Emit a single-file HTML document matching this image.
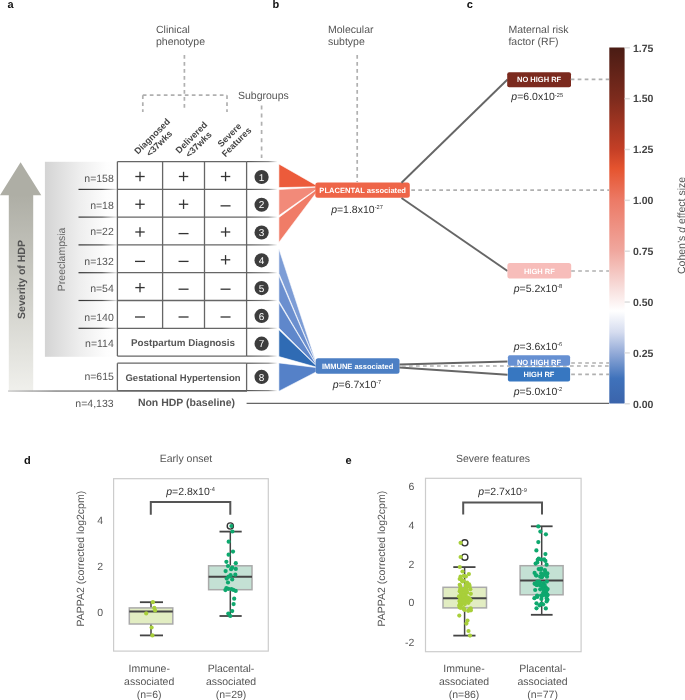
<!DOCTYPE html>
<html><head><meta charset="utf-8"><style>
html,body{margin:0;padding:0;background:#fff;overflow:hidden;width:685px;height:700px;}
svg{display:block;font-family:"Liberation Sans", sans-serif;text-rendering:geometricPrecision;will-change:transform;}
text{font-family:"Liberation Sans", sans-serif;}
</style></head><body>
<svg width="685" height="700" viewBox="0 0 685 700">
<text x="7.6" y="8" font-size="11" fill="#111" font-weight="bold" text-anchor="start"  style="">a</text>
<text x="272.6" y="7.7" font-size="11" fill="#111" font-weight="bold" text-anchor="start"  style="">b</text>
<text x="466.8" y="7.7" font-size="11" fill="#111" font-weight="bold" text-anchor="start"  style="">c</text>
<text x="24" y="464" font-size="11" fill="#111" font-weight="bold" text-anchor="start"  style="">d</text>
<text x="345.5" y="464" font-size="11" fill="#111" font-weight="bold" text-anchor="start"  style="">e</text>
<text x="156" y="32.5" font-size="10.5" fill="#555" font-weight="normal" text-anchor="start"  style="">Clinical</text>
<text x="156" y="44.8" font-size="10.5" fill="#555" font-weight="normal" text-anchor="start"  style="">phenotype</text>
<text x="328" y="32.5" font-size="10.5" fill="#555" font-weight="normal" text-anchor="start"  style="">Molecular</text>
<text x="328" y="44.8" font-size="10.5" fill="#555" font-weight="normal" text-anchor="start"  style="">subtype</text>
<text x="508.4" y="32.5" font-size="10.5" fill="#555" font-weight="normal" text-anchor="start"  style="">Maternal risk</text>
<text x="508.4" y="44.8" font-size="10.5" fill="#555" font-weight="normal" text-anchor="start"  style="">factor (RF)</text>
<text x="238" y="99" font-size="10.5" fill="#555" font-weight="normal" text-anchor="start"  style="">Subgroups</text>
<line x1="184.4" y1="55" x2="184.4" y2="110" stroke="#b0b0b0" stroke-width="1.7" stroke-dasharray="3.7,3.3" />
<line x1="142.8" y1="95.2" x2="227" y2="95.2" stroke="#b0b0b0" stroke-width="1.7" stroke-dasharray="3.7,3.3" />
<line x1="142.8" y1="95.2" x2="142.8" y2="112" stroke="#b0b0b0" stroke-width="1.7" stroke-dasharray="3.7,3.3" />
<line x1="227" y1="95.2" x2="227" y2="112" stroke="#b0b0b0" stroke-width="1.7" stroke-dasharray="3.7,3.3" />
<line x1="261.6" y1="105.4" x2="261.6" y2="158" stroke="#b0b0b0" stroke-width="1.7" stroke-dasharray="4,4.2" />
<line x1="357.2" y1="55" x2="357.2" y2="182" stroke="#b0b0b0" stroke-width="1.7" stroke-dasharray="3.7,3.3" />
<defs><linearGradient id="arr" x1="0" y1="0" x2="0" y2="1"><stop offset="0" stop-color="#aeaea5"/><stop offset="1" stop-color="#f0f0ec"/></linearGradient><linearGradient id="pre" x1="0" y1="0" x2="1" y2="0"><stop offset="0" stop-color="#d4d4d4"/><stop offset="0.48" stop-color="#eeeeee"/><stop offset="0.85" stop-color="#fdfdfd"/><stop offset="1" stop-color="#ffffff"/></linearGradient><linearGradient id="sep" x1="0" y1="0" x2="1" y2="0"><stop offset="0" stop-color="#333"/><stop offset="0.6" stop-color="#555"/><stop offset="1" stop-color="#eee"/></linearGradient><linearGradient id="sep2" x1="0" y1="0" x2="1" y2="0"><stop offset="0" stop-color="#555"/><stop offset="0.7" stop-color="#888"/><stop offset="1" stop-color="#fff"/></linearGradient><linearGradient id="base" x1="0" y1="0" x2="1" y2="0"><stop offset="0" stop-color="#c8c8c8"/><stop offset="0.2" stop-color="#777"/><stop offset="1" stop-color="#555"/></linearGradient><linearGradient id="cbar" x1="0" y1="0" x2="0" y2="1"><stop offset="0" stop-color="#4a1c14"/><stop offset="0.143" stop-color="#7d2b1d"/><stop offset="0.286" stop-color="#c43f26"/><stop offset="0.34" stop-color="#e5542f"/><stop offset="0.4286" stop-color="#ec7a66"/><stop offset="0.571" stop-color="#f0a79e"/><stop offset="0.68" stop-color="#f8e0de"/><stop offset="0.74" stop-color="#ffffff"/><stop offset="0.80" stop-color="#d5dcef"/><stop offset="0.857" stop-color="#94abd8"/><stop offset="0.93" stop-color="#3f72bb"/><stop offset="1" stop-color="#3b64ab"/></linearGradient></defs>
<polygon points="0,195.3 20.6,162.3 41.3,195.3" fill="#aeaea5" />
<rect x="8.8" y="195" width="24.4" height="196.5" fill="url(#arr)" stroke="none" stroke-width="1" rx="0" />
<text x="0" y="0" font-size="10.5" font-weight="bold" fill="#555" text-anchor="middle" transform="translate(25.3,279.5) rotate(-90)">Severity of HDP</text>
<rect x="44.9" y="161.8" width="72" height="195" fill="url(#pre)" stroke="none" stroke-width="1" rx="0" />
<text x="0" y="0" font-size="10.5" fill="#666" text-anchor="middle" transform="translate(64.8,259.4) rotate(-90)">Preeclampsia</text>
<rect x="78.5" y="188.8" width="39" height="1.2" fill="url(#sep)" stroke="none" stroke-width="1" rx="0" />
<rect x="78.5" y="216.5" width="39" height="1.2" fill="url(#sep)" stroke="none" stroke-width="1" rx="0" />
<rect x="78.5" y="244.3" width="39" height="1.2" fill="url(#sep)" stroke="none" stroke-width="1" rx="0" />
<rect x="78.5" y="272.09999999999997" width="39" height="1.2" fill="url(#sep)" stroke="none" stroke-width="1" rx="0" />
<rect x="78.5" y="299.9" width="39" height="1.2" fill="url(#sep)" stroke="none" stroke-width="1" rx="0" />
<rect x="78.5" y="327.7" width="39" height="1.2" fill="url(#sep)" stroke="none" stroke-width="1" rx="0" />
<text x="113.8" y="181.6" font-size="10.5" fill="#555" font-weight="normal" text-anchor="end"  style="">n=158</text>
<text x="113.8" y="208.8" font-size="10.5" fill="#555" font-weight="normal" text-anchor="end"  style="">n=18</text>
<text x="113.8" y="235.4" font-size="10.5" fill="#555" font-weight="normal" text-anchor="end"  style="">n=22</text>
<text x="113.8" y="265.1" font-size="10.5" fill="#555" font-weight="normal" text-anchor="end"  style="">n=132</text>
<text x="113.8" y="292.2" font-size="10.5" fill="#555" font-weight="normal" text-anchor="end"  style="">n=54</text>
<text x="113.8" y="320.8" font-size="10.5" fill="#555" font-weight="normal" text-anchor="end"  style="">n=140</text>
<text x="113.8" y="346.7" font-size="10.5" fill="#555" font-weight="normal" text-anchor="end"  style="">n=114</text>
<line x1="117.4" y1="161.6" x2="117.4" y2="356.1" stroke="#666" stroke-width="1.3" />
<line x1="162.6" y1="161.6" x2="162.6" y2="328.3" stroke="#666" stroke-width="1.3" />
<line x1="204.5" y1="161.6" x2="204.5" y2="328.3" stroke="#666" stroke-width="1.3" />
<line x1="246.6" y1="161.6" x2="246.6" y2="356.1" stroke="#666" stroke-width="1.3" />
<line x1="117.4" y1="356.1" x2="246.6" y2="356.1" stroke="#666" stroke-width="1.3" />
<line x1="117.4" y1="161.6" x2="246.6" y2="161.6" stroke="#666" stroke-width="1.3" />
<rect x="246.6" y="161.0" width="31" height="1.2" fill="url(#sep2)" stroke="none" stroke-width="1" rx="0" />
<line x1="117.4" y1="189.4" x2="246.6" y2="189.4" stroke="#666" stroke-width="1.3" />
<rect x="246.6" y="188.8" width="31" height="1.2" fill="url(#sep2)" stroke="none" stroke-width="1" rx="0" />
<line x1="117.4" y1="217.1" x2="246.6" y2="217.1" stroke="#666" stroke-width="1.3" />
<rect x="246.6" y="216.5" width="31" height="1.2" fill="url(#sep2)" stroke="none" stroke-width="1" rx="0" />
<line x1="117.4" y1="244.9" x2="246.6" y2="244.9" stroke="#666" stroke-width="1.3" />
<rect x="246.6" y="244.3" width="31" height="1.2" fill="url(#sep2)" stroke="none" stroke-width="1" rx="0" />
<line x1="117.4" y1="272.7" x2="246.6" y2="272.7" stroke="#666" stroke-width="1.3" />
<rect x="246.6" y="272.09999999999997" width="31" height="1.2" fill="url(#sep2)" stroke="none" stroke-width="1" rx="0" />
<line x1="117.4" y1="300.5" x2="246.6" y2="300.5" stroke="#666" stroke-width="1.3" />
<rect x="246.6" y="299.9" width="31" height="1.2" fill="url(#sep2)" stroke="none" stroke-width="1" rx="0" />
<line x1="117.4" y1="328.3" x2="246.6" y2="328.3" stroke="#666" stroke-width="1.3" />
<rect x="246.6" y="327.7" width="31" height="1.2" fill="url(#sep2)" stroke="none" stroke-width="1" rx="0" />
<rect x="246.6" y="355.5" width="31" height="1.2" fill="url(#sep2)" stroke="none" stroke-width="1" rx="0" />
<line x1="135.3" y1="176.5" x2="144.7" y2="176.5" stroke="#333" stroke-width="1.3" />
<line x1="140.0" y1="171.8" x2="140.0" y2="181.2" stroke="#333" stroke-width="1.3" />
<line x1="178.85000000000002" y1="176.5" x2="188.25" y2="176.5" stroke="#333" stroke-width="1.3" />
<line x1="183.55" y1="171.8" x2="183.55" y2="181.2" stroke="#333" stroke-width="1.3" />
<line x1="220.85000000000002" y1="176.5" x2="230.25" y2="176.5" stroke="#333" stroke-width="1.3" />
<line x1="225.55" y1="171.8" x2="225.55" y2="181.2" stroke="#333" stroke-width="1.3" />
<line x1="135.3" y1="204.25" x2="144.7" y2="204.25" stroke="#333" stroke-width="1.3" />
<line x1="140.0" y1="199.55" x2="140.0" y2="208.95" stroke="#333" stroke-width="1.3" />
<line x1="178.85000000000002" y1="204.25" x2="188.25" y2="204.25" stroke="#333" stroke-width="1.3" />
<line x1="183.55" y1="199.55" x2="183.55" y2="208.95" stroke="#333" stroke-width="1.3" />
<line x1="220.55" y1="205.85" x2="230.55" y2="205.85" stroke="#333" stroke-width="1.3" />
<line x1="135.3" y1="232.0" x2="144.7" y2="232.0" stroke="#333" stroke-width="1.3" />
<line x1="140.0" y1="227.3" x2="140.0" y2="236.7" stroke="#333" stroke-width="1.3" />
<line x1="178.55" y1="233.6" x2="188.55" y2="233.6" stroke="#333" stroke-width="1.3" />
<line x1="220.85000000000002" y1="232.0" x2="230.25" y2="232.0" stroke="#333" stroke-width="1.3" />
<line x1="225.55" y1="227.3" x2="225.55" y2="236.7" stroke="#333" stroke-width="1.3" />
<line x1="135.0" y1="261.40000000000003" x2="145.0" y2="261.40000000000003" stroke="#333" stroke-width="1.3" />
<line x1="178.55" y1="261.40000000000003" x2="188.55" y2="261.40000000000003" stroke="#333" stroke-width="1.3" />
<line x1="220.85000000000002" y1="259.8" x2="230.25" y2="259.8" stroke="#333" stroke-width="1.3" />
<line x1="225.55" y1="255.10000000000002" x2="225.55" y2="264.5" stroke="#333" stroke-width="1.3" />
<line x1="135.3" y1="287.6" x2="144.7" y2="287.6" stroke="#333" stroke-width="1.3" />
<line x1="140.0" y1="282.90000000000003" x2="140.0" y2="292.3" stroke="#333" stroke-width="1.3" />
<line x1="178.55" y1="289.20000000000005" x2="188.55" y2="289.20000000000005" stroke="#333" stroke-width="1.3" />
<line x1="220.55" y1="289.20000000000005" x2="230.55" y2="289.20000000000005" stroke="#333" stroke-width="1.3" />
<line x1="135.0" y1="317.0" x2="145.0" y2="317.0" stroke="#333" stroke-width="1.3" />
<line x1="178.55" y1="317.0" x2="188.55" y2="317.0" stroke="#333" stroke-width="1.3" />
<line x1="220.55" y1="317.0" x2="230.55" y2="317.0" stroke="#333" stroke-width="1.3" />
<text x="183" y="346.40000000000003" font-size="9.8" fill="#555" font-weight="bold" text-anchor="middle"  style="">Postpartum Diagnosis</text>
<line x1="117.4" y1="363.2" x2="246.6" y2="363.2" stroke="#666" stroke-width="1.3" />
<line x1="117.4" y1="390.6" x2="246.6" y2="390.6" stroke="#666" stroke-width="1.3" />
<line x1="117.4" y1="363.2" x2="117.4" y2="390.6" stroke="#666" stroke-width="1.3" />
<line x1="246.6" y1="363.2" x2="246.6" y2="390.6" stroke="#666" stroke-width="1.3" />
<rect x="246.6" y="362.59999999999997" width="31" height="1.2" fill="url(#sep2)" stroke="none" stroke-width="1" rx="0" />
<rect x="246.6" y="390.0" width="31" height="1.2" fill="url(#sep2)" stroke="none" stroke-width="1" rx="0" />
<text x="183" y="380.5" font-size="9.5" fill="#555" font-weight="bold" text-anchor="middle"  style="">Gestational Hypertension</text>
<text x="113.9" y="380.1" font-size="10.5" fill="#555" font-weight="normal" text-anchor="end"  style="">n=615</text>
<rect x="8" y="390.4" width="239" height="1.3" fill="url(#base)" stroke="none" stroke-width="1" rx="0" />
<line x1="246.6" y1="403.3" x2="609" y2="403.3" stroke="#666" stroke-width="1.3" />
<text x="113.6" y="407.2" font-size="10.5" fill="#555" font-weight="normal" text-anchor="end"  style="">n=4,133</text>
<text x="186.5" y="405.7" font-size="10.5" fill="#555" font-weight="bold" text-anchor="middle"  style="">Non HDP (baseline)</text>
<circle cx="261.6" cy="177.0" r="7.1" fill="#3d3d3d" stroke="none" stroke-width="1"/>
<text x="261.6" y="180.6" font-size="10" fill="#fff" font-weight="normal" text-anchor="middle"  style="">1</text>
<circle cx="261.6" cy="204.75" r="7.1" fill="#3d3d3d" stroke="none" stroke-width="1"/>
<text x="261.6" y="208.35" font-size="10" fill="#fff" font-weight="normal" text-anchor="middle"  style="">2</text>
<circle cx="261.6" cy="232.5" r="7.1" fill="#3d3d3d" stroke="none" stroke-width="1"/>
<text x="261.6" y="236.1" font-size="10" fill="#fff" font-weight="normal" text-anchor="middle"  style="">3</text>
<circle cx="261.6" cy="260.3" r="7.1" fill="#3d3d3d" stroke="none" stroke-width="1"/>
<text x="261.6" y="263.90000000000003" font-size="10" fill="#fff" font-weight="normal" text-anchor="middle"  style="">4</text>
<circle cx="261.6" cy="288.1" r="7.1" fill="#3d3d3d" stroke="none" stroke-width="1"/>
<text x="261.6" y="291.70000000000005" font-size="10" fill="#fff" font-weight="normal" text-anchor="middle"  style="">5</text>
<circle cx="261.6" cy="315.9" r="7.1" fill="#3d3d3d" stroke="none" stroke-width="1"/>
<text x="261.6" y="319.5" font-size="10" fill="#fff" font-weight="normal" text-anchor="middle"  style="">6</text>
<circle cx="261.6" cy="343.70000000000005" r="7.1" fill="#3d3d3d" stroke="none" stroke-width="1"/>
<text x="261.6" y="347.30000000000007" font-size="10" fill="#fff" font-weight="normal" text-anchor="middle"  style="">7</text>
<circle cx="261.6" cy="376.9" r="7.1" fill="#3d3d3d" stroke="none" stroke-width="1"/>
<text x="261.6" y="380.5" font-size="10" fill="#fff" font-weight="normal" text-anchor="middle"  style="">8</text>
<g transform="translate(155.8,139.9) rotate(-45)"><text x="0" y="-2" font-size="9" font-weight="bold" fill="#444" text-anchor="middle">Diagnosed</text><text x="0" y="8" font-size="9" font-weight="bold" fill="#444" text-anchor="middle">&lt;37wks</text></g>
<g transform="translate(195.1,141) rotate(-45)"><text x="0" y="-2" font-size="9" font-weight="bold" fill="#444" text-anchor="middle">Delivered</text><text x="0" y="8" font-size="9" font-weight="bold" fill="#444" text-anchor="middle">&lt;37wks</text></g>
<g transform="translate(233,138.5) rotate(-45)"><text x="0" y="-2" font-size="9" font-weight="bold" fill="#444" text-anchor="middle">Severe</text><text x="0" y="8" font-size="9" font-weight="bold" fill="#444" text-anchor="middle">Features</text></g>
<polygon points="278.9,164 278.9,187.6 316,186.8 316,185.2" fill="#ec5b3b" stroke="#fff" stroke-width="0.6" stroke-linejoin="round"/>
<polygon points="278.9,189.6 278.9,215.6 316,189.5 316,187.2" fill="#f28a79" stroke="#fff" stroke-width="0.6" stroke-linejoin="round"/>
<polygon points="278.9,217.4 278.9,242.4 316,193 316,190" fill="#f07c67" stroke="#fff" stroke-width="0.6" stroke-linejoin="round"/>
<polygon points="278.9,248.8 278.9,273.5 316,362.8 316,362.0" fill="#7d9dd6" stroke="#fff" stroke-width="0.6" stroke-linejoin="round"/>
<polygon points="278.9,275.6 278.9,301.0 316,364.0 316,363.0" fill="#6b8fcf" stroke="#fff" stroke-width="0.6" stroke-linejoin="round"/>
<polygon points="278.9,302.6 278.9,328.0 316,365.2 316,364.2" fill="#5f87cb" stroke="#fff" stroke-width="0.6" stroke-linejoin="round"/>
<polygon points="278.9,329.8 278.9,356.6 316,367 316,365.5" fill="#2f6bb4" stroke="#fff" stroke-width="0.6" stroke-linejoin="round"/>
<polygon points="278.9,362.9 278.9,391.2 316,372 316,367.5" fill="#5581c8" stroke="#fff" stroke-width="0.6" stroke-linejoin="round"/>
<rect x="315.3" y="182.5" width="94.5" height="15.2" fill="#ee6548" stroke="none" stroke-width="1" rx="2.5" />
<text x="362.7" y="193" font-size="7.6" fill="#fff" font-weight="bold" text-anchor="middle"  style="">PLACENTAL associated</text>
<rect x="315.7" y="358.3" width="83.8" height="15.5" fill="#4c7fc4" stroke="none" stroke-width="1" rx="2.5" />
<text x="357.6" y="369.3" font-size="7.5" fill="#fff" font-weight="bold" text-anchor="middle"  style="">IMMUNE associated</text>
<text x="357" y="213" font-size="10.5" fill="#333" text-anchor="middle"><tspan font-style="italic">p</tspan>=1.8x10<tspan font-size="5.67" dy="-3.7">-27</tspan></text>
<text x="357" y="388" font-size="10.5" fill="#333" text-anchor="middle"><tspan font-style="italic">p</tspan>=6.7x10<tspan font-size="5.67" dy="-3.7">-7</tspan></text>
<line x1="401.5" y1="182.8" x2="507.5" y2="79.5" stroke="#666" stroke-width="1.9" />
<line x1="401.5" y1="198" x2="507.5" y2="271" stroke="#666" stroke-width="1.9" />
<line x1="399.5" y1="364.5" x2="507.5" y2="361.5" stroke="#666" stroke-width="1.9" />
<line x1="399.5" y1="367.5" x2="507.5" y2="374.7" stroke="#666" stroke-width="1.9" />
<line x1="402" y1="366" x2="609" y2="366" stroke="#b0b0b0" stroke-width="1.7" stroke-dasharray="3.7,3.3" />
<rect x="507.2" y="72.2" width="63.8" height="15" fill="#7b2a1e" stroke="none" stroke-width="1" rx="2" />
<text x="539.1" y="82.3" font-size="7.5" fill="#fff" font-weight="bold" text-anchor="middle"  style="">NO HIGH RF</text>
<text x="537.2" y="100.4" font-size="10.5" fill="#333" text-anchor="middle"><tspan font-style="italic">p</tspan>=6.0x10<tspan font-size="5.67" dy="-3.7">-25</tspan></text>
<rect x="507.4" y="263.1" width="63.8" height="15.5" fill="#f7bdba" stroke="none" stroke-width="1" rx="2.5" />
<text x="539.3" y="273.5" font-size="7.5" fill="#fff" font-weight="bold" text-anchor="middle"  style="">HIGH RF</text>
<text x="538" y="292" font-size="10.5" fill="#333" text-anchor="middle"><tspan font-style="italic">p</tspan>=5.2x10<tspan font-size="5.67" dy="-3.7">-8</tspan></text>
<rect x="507.9" y="355.3" width="62.2" height="10.5" fill="#6690d2" stroke="none" stroke-width="1" rx="2" />
<text x="539" y="364.6" font-size="7.5" fill="#fff" font-weight="bold" text-anchor="middle"  style="">NO HIGH RF</text>
<rect x="507.9" y="367.3" width="62.2" height="14.2" fill="#3777c1" stroke="none" stroke-width="1" rx="2" />
<text x="539" y="376.6" font-size="7.5" fill="#fff" font-weight="bold" text-anchor="middle"  style="">HIGH RF</text>
<text x="538" y="350" font-size="10.5" fill="#333" text-anchor="middle"><tspan font-style="italic">p</tspan>=3.6x10<tspan font-size="5.67" dy="-3.7">-6</tspan></text>
<text x="538" y="395" font-size="10.5" fill="#333" text-anchor="middle"><tspan font-style="italic">p</tspan>=5.0x10<tspan font-size="5.67" dy="-3.7">-2</tspan></text>
<line x1="570.7" y1="79.4" x2="609" y2="79.4" stroke="#b0b0b0" stroke-width="1.7" stroke-dasharray="3.7,3.3" />
<line x1="411.3" y1="190.1" x2="609" y2="190.1" stroke="#b0b0b0" stroke-width="1.7" stroke-dasharray="3.7,3.3" />
<line x1="571.2" y1="271" x2="609" y2="271" stroke="#b0b0b0" stroke-width="1.7" stroke-dasharray="3.7,3.3" />
<line x1="571.2" y1="363" x2="609" y2="363" stroke="#b0b0b0" stroke-width="1.7" stroke-dasharray="3.7,3.3" />
<line x1="571.2" y1="374.3" x2="609" y2="374.3" stroke="#b0b0b0" stroke-width="1.7" stroke-dasharray="3.7,3.3" />
<rect x="609.3" y="47.5" width="15.3" height="356" fill="url(#cbar)" stroke="none" stroke-width="1" rx="0" />
<line x1="624.6" y1="47.8" x2="629.8" y2="47.8" stroke="#ddd" stroke-width="1.5" />
<text x="633" y="51.599999999999994" font-size="10.5" fill="#444" font-weight="bold" text-anchor="start"  style="">1.75</text>
<line x1="624.6" y1="98.65" x2="629.8" y2="98.65" stroke="#ddd" stroke-width="1.5" />
<text x="633" y="102.45" font-size="10.5" fill="#444" font-weight="bold" text-anchor="start"  style="">1.50</text>
<line x1="624.6" y1="149.5" x2="629.8" y2="149.5" stroke="#ddd" stroke-width="1.5" />
<text x="633" y="153.3" font-size="10.5" fill="#444" font-weight="bold" text-anchor="start"  style="">1.25</text>
<line x1="624.6" y1="200.35000000000002" x2="629.8" y2="200.35000000000002" stroke="#ddd" stroke-width="1.5" />
<text x="633" y="204.15000000000003" font-size="10.5" fill="#444" font-weight="bold" text-anchor="start"  style="">1.00</text>
<line x1="624.6" y1="251.2" x2="629.8" y2="251.2" stroke="#ddd" stroke-width="1.5" />
<text x="633" y="255.0" font-size="10.5" fill="#444" font-weight="bold" text-anchor="start"  style="">0.75</text>
<line x1="624.6" y1="302.05" x2="629.8" y2="302.05" stroke="#ddd" stroke-width="1.5" />
<text x="633" y="305.85" font-size="10.5" fill="#444" font-weight="bold" text-anchor="start"  style="">0.50</text>
<line x1="624.6" y1="352.90000000000003" x2="629.8" y2="352.90000000000003" stroke="#ddd" stroke-width="1.5" />
<text x="633" y="356.70000000000005" font-size="10.5" fill="#444" font-weight="bold" text-anchor="start"  style="">0.25</text>
<line x1="624.6" y1="403.75" x2="629.8" y2="403.75" stroke="#ddd" stroke-width="1.5" />
<text x="633" y="407.55" font-size="10.5" fill="#444" font-weight="bold" text-anchor="start"  style="">0.00</text>
<text x="0" y="0" font-size="10.5" fill="#555" text-anchor="middle" transform="translate(685,225.5) rotate(-90)">Cohen&#8217;s <tspan font-style="italic">d</tspan> effect size</text>
<rect x="113.6" y="478.7" width="154.70000000000002" height="172.40000000000003" fill="none" stroke="#cccccc" stroke-width="1.2" rx="0" />
<text x="186" y="461.8" font-size="10.5" fill="#555" font-weight="normal" text-anchor="middle"  style="">Early onset</text>
<text x="103" y="524.1" font-size="10.5" fill="#555" font-weight="normal" text-anchor="end"  style="">4</text>
<text x="103" y="570.0" font-size="10.5" fill="#555" font-weight="normal" text-anchor="end"  style="">2</text>
<text x="103" y="616.4" font-size="10.5" fill="#555" font-weight="normal" text-anchor="end"  style="">0</text>
<text x="0" y="0" font-size="10.5" fill="#555" text-anchor="middle" transform="translate(84.3,558.6) rotate(-90)">PAPPA2 (corrected log2cpm)</text>
<text x="149.2" y="671.5" font-size="10.5" fill="#555" font-weight="normal" text-anchor="middle"  style="">Immune-</text>
<text x="149.2" y="684.7" font-size="10.5" fill="#555" font-weight="normal" text-anchor="middle"  style="">associated</text>
<text x="149.2" y="697.9" font-size="10.5" fill="#555" font-weight="normal" text-anchor="middle"  style="">(n=6)</text>
<text x="231" y="671.5" font-size="10.5" fill="#555" font-weight="normal" text-anchor="middle"  style="">Placental-</text>
<text x="231" y="684.7" font-size="10.5" fill="#555" font-weight="normal" text-anchor="middle"  style="">associated</text>
<text x="231" y="697.9" font-size="10.5" fill="#555" font-weight="normal" text-anchor="middle"  style="">(n=29)</text>
<line x1="151" y1="602.2" x2="151" y2="635.4" stroke="#444" stroke-width="1.5" />
<rect x="129.3" y="607.9" width="43.5" height="16.100000000000023" fill="#e2edc2" stroke="#aaaaaa" stroke-width="1.5" rx="0" />
<line x1="129.3" y1="611.5" x2="172.8" y2="611.5" stroke="#444" stroke-width="2" />
<line x1="139.9" y1="602.2" x2="163" y2="602.2" stroke="#444" stroke-width="1.8" />
<line x1="139.9" y1="635.4" x2="163" y2="635.4" stroke="#444" stroke-width="1.8" />
<circle cx="152.9" cy="602.2" r="2.1" fill="#a8cf3a" stroke="none" stroke-width="1"/>
<circle cx="154.3" cy="607.9" r="2.1" fill="#a8cf3a" stroke="none" stroke-width="1"/>
<circle cx="155.1" cy="610.4" r="2.1" fill="#a8cf3a" stroke="none" stroke-width="1"/>
<circle cx="146.2" cy="613.4" r="2.1" fill="#a8cf3a" stroke="none" stroke-width="1"/>
<circle cx="151.6" cy="627.5" r="2.1" fill="#a8cf3a" stroke="none" stroke-width="1"/>
<circle cx="152.4" cy="635.4" r="2.1" fill="#a8cf3a" stroke="none" stroke-width="1"/>
<line x1="230.3" y1="531.6" x2="230.3" y2="616" stroke="#444" stroke-width="1.5" />
<rect x="208.6" y="565.8" width="43.400000000000006" height="23.90000000000009" fill="#c4e1d4" stroke="#aaaaaa" stroke-width="1.5" rx="0" />
<line x1="208.6" y1="576.7" x2="252" y2="576.7" stroke="#444" stroke-width="2" />
<line x1="219.5" y1="531.6" x2="241.7" y2="531.6" stroke="#444" stroke-width="1.8" />
<line x1="219.5" y1="616" x2="241.7" y2="616" stroke="#444" stroke-width="1.8" />
<circle cx="230.3" cy="526" r="3.1" fill="none" stroke="#333" stroke-width="1.4"/>
<circle cx="231.4" cy="526.0" r="2.1" fill="#0ea86e" stroke="none" stroke-width="1"/>
<circle cx="232.4" cy="531.5" r="2.1" fill="#0ea86e" stroke="none" stroke-width="1"/>
<circle cx="228.7" cy="541.7" r="2.1" fill="#0ea86e" stroke="none" stroke-width="1"/>
<circle cx="233" cy="551.6" r="2.1" fill="#0ea86e" stroke="none" stroke-width="1"/>
<circle cx="228.6" cy="554.7" r="2.1" fill="#0ea86e" stroke="none" stroke-width="1"/>
<circle cx="226.4" cy="561.8" r="2.1" fill="#0ea86e" stroke="none" stroke-width="1"/>
<circle cx="235.8" cy="563.2" r="2.1" fill="#0ea86e" stroke="none" stroke-width="1"/>
<circle cx="228" cy="566" r="2.1" fill="#0ea86e" stroke="none" stroke-width="1"/>
<circle cx="232.2" cy="567.6" r="2.1" fill="#0ea86e" stroke="none" stroke-width="1"/>
<circle cx="235.8" cy="568.9" r="2.1" fill="#0ea86e" stroke="none" stroke-width="1"/>
<circle cx="231.1" cy="569.2" r="2.1" fill="#0ea86e" stroke="none" stroke-width="1"/>
<circle cx="225.6" cy="571.1" r="2.1" fill="#0ea86e" stroke="none" stroke-width="1"/>
<circle cx="235.3" cy="574.7" r="2.1" fill="#0ea86e" stroke="none" stroke-width="1"/>
<circle cx="230.6" cy="575.2" r="2.1" fill="#0ea86e" stroke="none" stroke-width="1"/>
<circle cx="228.6" cy="576.7" r="2.1" fill="#0ea86e" stroke="none" stroke-width="1"/>
<circle cx="226.7" cy="578.6" r="2.1" fill="#0ea86e" stroke="none" stroke-width="1"/>
<circle cx="232.2" cy="579.4" r="2.1" fill="#0ea86e" stroke="none" stroke-width="1"/>
<circle cx="228" cy="582.5" r="2.1" fill="#0ea86e" stroke="none" stroke-width="1"/>
<circle cx="226.4" cy="588" r="2.1" fill="#0ea86e" stroke="none" stroke-width="1"/>
<circle cx="228.3" cy="588.8" r="2.1" fill="#0ea86e" stroke="none" stroke-width="1"/>
<circle cx="225.4" cy="590.1" r="2.1" fill="#0ea86e" stroke="none" stroke-width="1"/>
<circle cx="231.4" cy="589.1" r="2.1" fill="#0ea86e" stroke="none" stroke-width="1"/>
<circle cx="233.3" cy="589.9" r="2.1" fill="#0ea86e" stroke="none" stroke-width="1"/>
<circle cx="235.7" cy="590.9" r="2.1" fill="#0ea86e" stroke="none" stroke-width="1"/>
<circle cx="234.2" cy="598.7" r="2.1" fill="#0ea86e" stroke="none" stroke-width="1"/>
<circle cx="233.6" cy="604.1" r="2.1" fill="#0ea86e" stroke="none" stroke-width="1"/>
<circle cx="232.2" cy="611.1" r="2.1" fill="#0ea86e" stroke="none" stroke-width="1"/>
<circle cx="228.3" cy="613.6" r="2.1" fill="#0ea86e" stroke="none" stroke-width="1"/>
<circle cx="230.3" cy="616" r="2.1" fill="#0ea86e" stroke="none" stroke-width="1"/>
<polyline points="150.8,514.8 150.8,502 230.3,502 230.3,514.8" fill="none" stroke="#555" stroke-width="2"/>
<text x="190.55" y="494.8" font-size="10.5" fill="#333" text-anchor="middle"><tspan font-style="italic">p</tspan>=2.8x10<tspan font-size="5.67" dy="-3.7">-4</tspan></text>
<rect x="425.5" y="478.3" width="155.60000000000002" height="173.40000000000003" fill="none" stroke="#cccccc" stroke-width="1.2" rx="0" />
<text x="493" y="461.8" font-size="10.5" fill="#555" font-weight="normal" text-anchor="middle"  style="">Severe features</text>
<text x="414.3" y="489.79999999999995" font-size="10.5" fill="#555" font-weight="normal" text-anchor="end"  style="">6</text>
<text x="414.3" y="528.6" font-size="10.5" fill="#555" font-weight="normal" text-anchor="end"  style="">4</text>
<text x="414.3" y="567.5" font-size="10.5" fill="#555" font-weight="normal" text-anchor="end"  style="">2</text>
<text x="414.3" y="606.3" font-size="10.5" fill="#555" font-weight="normal" text-anchor="end"  style="">0</text>
<text x="414.3" y="645.6999999999999" font-size="10.5" fill="#555" font-weight="normal" text-anchor="end"  style="">-2</text>
<text x="0" y="0" font-size="10.5" fill="#555" text-anchor="middle" transform="translate(384.5,558.6) rotate(-90)">PAPPA2 (corrected log2cpm)</text>
<text x="464" y="671.5" font-size="10.5" fill="#555" font-weight="normal" text-anchor="middle"  style="">Immune-</text>
<text x="464" y="684.7" font-size="10.5" fill="#555" font-weight="normal" text-anchor="middle"  style="">associated</text>
<text x="464" y="697.9" font-size="10.5" fill="#555" font-weight="normal" text-anchor="middle"  style="">(n=86)</text>
<text x="542.6" y="671.5" font-size="10.5" fill="#555" font-weight="normal" text-anchor="middle"  style="">Placental-</text>
<text x="542.6" y="684.7" font-size="10.5" fill="#555" font-weight="normal" text-anchor="middle"  style="">associated</text>
<text x="542.6" y="697.9" font-size="10.5" fill="#555" font-weight="normal" text-anchor="middle"  style="">(n=77)</text>
<line x1="464.6" y1="567.1" x2="464.6" y2="635.6" stroke="#444" stroke-width="1.5" />
<rect x="443" y="587.3" width="43.5" height="20.600000000000023" fill="#e2edc2" stroke="#aaaaaa" stroke-width="1.5" rx="0" />
<line x1="443" y1="598.2" x2="486.5" y2="598.2" stroke="#444" stroke-width="2" />
<line x1="453.3" y1="567.1" x2="475.5" y2="567.1" stroke="#444" stroke-width="1.8" />
<line x1="453.3" y1="635.6" x2="475.5" y2="635.6" stroke="#444" stroke-width="1.8" />
<circle cx="464.8" cy="542.8" r="3.1" fill="none" stroke="#333" stroke-width="1.4"/>
<circle cx="464.8" cy="557.2" r="3.1" fill="none" stroke="#333" stroke-width="1.4"/>
<circle cx="466.8" cy="592.2" r="2.1" fill="#a8cf3a" stroke="none" stroke-width="1"/>
<circle cx="459.9" cy="600.6" r="2.1" fill="#a8cf3a" stroke="none" stroke-width="1"/>
<circle cx="459.7" cy="584.8" r="2.1" fill="#a8cf3a" stroke="none" stroke-width="1"/>
<circle cx="465.1" cy="592.7" r="2.1" fill="#a8cf3a" stroke="none" stroke-width="1"/>
<circle cx="459.8" cy="606.4" r="2.1" fill="#a8cf3a" stroke="none" stroke-width="1"/>
<circle cx="460.1" cy="597.7" r="2.1" fill="#a8cf3a" stroke="none" stroke-width="1"/>
<circle cx="460.5" cy="576.7" r="2.1" fill="#a8cf3a" stroke="none" stroke-width="1"/>
<circle cx="461.7" cy="604.4" r="2.1" fill="#a8cf3a" stroke="none" stroke-width="1"/>
<circle cx="465.9" cy="576.4" r="2.1" fill="#a8cf3a" stroke="none" stroke-width="1"/>
<circle cx="463.8" cy="575.8" r="2.1" fill="#a8cf3a" stroke="none" stroke-width="1"/>
<circle cx="469.3" cy="598.4" r="2.1" fill="#a8cf3a" stroke="none" stroke-width="1"/>
<circle cx="462.5" cy="594.5" r="2.1" fill="#a8cf3a" stroke="none" stroke-width="1"/>
<circle cx="462.7" cy="598.4" r="2.1" fill="#a8cf3a" stroke="none" stroke-width="1"/>
<circle cx="468.8" cy="599.3" r="2.1" fill="#a8cf3a" stroke="none" stroke-width="1"/>
<circle cx="466.7" cy="601.1" r="2.1" fill="#a8cf3a" stroke="none" stroke-width="1"/>
<circle cx="463.5" cy="608.2" r="2.1" fill="#a8cf3a" stroke="none" stroke-width="1"/>
<circle cx="459.7" cy="591.2" r="2.1" fill="#a8cf3a" stroke="none" stroke-width="1"/>
<circle cx="461.5" cy="593.8" r="2.1" fill="#a8cf3a" stroke="none" stroke-width="1"/>
<circle cx="462.8" cy="590.1" r="2.1" fill="#a8cf3a" stroke="none" stroke-width="1"/>
<circle cx="466.0" cy="584.5" r="2.1" fill="#a8cf3a" stroke="none" stroke-width="1"/>
<circle cx="468.5" cy="586.1" r="2.1" fill="#a8cf3a" stroke="none" stroke-width="1"/>
<circle cx="467.4" cy="597.7" r="2.1" fill="#a8cf3a" stroke="none" stroke-width="1"/>
<circle cx="465.3" cy="595.5" r="2.1" fill="#a8cf3a" stroke="none" stroke-width="1"/>
<circle cx="469.5" cy="609.4" r="2.1" fill="#a8cf3a" stroke="none" stroke-width="1"/>
<circle cx="470.8" cy="593.8" r="2.1" fill="#a8cf3a" stroke="none" stroke-width="1"/>
<circle cx="460.4" cy="586.0" r="2.1" fill="#a8cf3a" stroke="none" stroke-width="1"/>
<circle cx="460.8" cy="578.9" r="2.1" fill="#a8cf3a" stroke="none" stroke-width="1"/>
<circle cx="464.9" cy="604.1" r="2.1" fill="#a8cf3a" stroke="none" stroke-width="1"/>
<circle cx="468.2" cy="610.8" r="2.1" fill="#a8cf3a" stroke="none" stroke-width="1"/>
<circle cx="465.9" cy="599.0" r="2.1" fill="#a8cf3a" stroke="none" stroke-width="1"/>
<circle cx="467.3" cy="601.8" r="2.1" fill="#a8cf3a" stroke="none" stroke-width="1"/>
<circle cx="466.1" cy="588.3" r="2.1" fill="#a8cf3a" stroke="none" stroke-width="1"/>
<circle cx="469.1" cy="584.4" r="2.1" fill="#a8cf3a" stroke="none" stroke-width="1"/>
<circle cx="470.3" cy="589.2" r="2.1" fill="#a8cf3a" stroke="none" stroke-width="1"/>
<circle cx="459.7" cy="579.0" r="2.1" fill="#a8cf3a" stroke="none" stroke-width="1"/>
<circle cx="467.4" cy="597.6" r="2.1" fill="#a8cf3a" stroke="none" stroke-width="1"/>
<circle cx="468.9" cy="574.1" r="2.1" fill="#a8cf3a" stroke="none" stroke-width="1"/>
<circle cx="467.0" cy="592.7" r="2.1" fill="#a8cf3a" stroke="none" stroke-width="1"/>
<circle cx="459.3" cy="605.6" r="2.1" fill="#a8cf3a" stroke="none" stroke-width="1"/>
<circle cx="460.4" cy="588.5" r="2.1" fill="#a8cf3a" stroke="none" stroke-width="1"/>
<circle cx="459.7" cy="596.6" r="2.1" fill="#a8cf3a" stroke="none" stroke-width="1"/>
<circle cx="462.0" cy="595.7" r="2.1" fill="#a8cf3a" stroke="none" stroke-width="1"/>
<circle cx="463.7" cy="589.2" r="2.1" fill="#a8cf3a" stroke="none" stroke-width="1"/>
<circle cx="464.4" cy="598.1" r="2.1" fill="#a8cf3a" stroke="none" stroke-width="1"/>
<circle cx="465.6" cy="591.7" r="2.1" fill="#a8cf3a" stroke="none" stroke-width="1"/>
<circle cx="469.4" cy="610.1" r="2.1" fill="#a8cf3a" stroke="none" stroke-width="1"/>
<circle cx="462.3" cy="581.4" r="2.1" fill="#a8cf3a" stroke="none" stroke-width="1"/>
<circle cx="469.6" cy="586.1" r="2.1" fill="#a8cf3a" stroke="none" stroke-width="1"/>
<circle cx="470.5" cy="600.3" r="2.1" fill="#a8cf3a" stroke="none" stroke-width="1"/>
<circle cx="461.8" cy="599.0" r="2.1" fill="#a8cf3a" stroke="none" stroke-width="1"/>
<circle cx="461.8" cy="600.6" r="2.1" fill="#a8cf3a" stroke="none" stroke-width="1"/>
<circle cx="462.2" cy="580.4" r="2.1" fill="#a8cf3a" stroke="none" stroke-width="1"/>
<circle cx="459.0" cy="596.4" r="2.1" fill="#a8cf3a" stroke="none" stroke-width="1"/>
<circle cx="465.8" cy="585.8" r="2.1" fill="#a8cf3a" stroke="none" stroke-width="1"/>
<circle cx="470.4" cy="600.1" r="2.1" fill="#a8cf3a" stroke="none" stroke-width="1"/>
<circle cx="466.4" cy="590.2" r="2.1" fill="#a8cf3a" stroke="none" stroke-width="1"/>
<circle cx="467.1" cy="582.7" r="2.1" fill="#a8cf3a" stroke="none" stroke-width="1"/>
<circle cx="468.4" cy="602.8" r="2.1" fill="#a8cf3a" stroke="none" stroke-width="1"/>
<circle cx="463.7" cy="608.9" r="2.1" fill="#a8cf3a" stroke="none" stroke-width="1"/>
<circle cx="463.8" cy="581.0" r="2.1" fill="#a8cf3a" stroke="none" stroke-width="1"/>
<circle cx="459.7" cy="607.4" r="2.1" fill="#a8cf3a" stroke="none" stroke-width="1"/>
<circle cx="459.8" cy="604.4" r="2.1" fill="#a8cf3a" stroke="none" stroke-width="1"/>
<circle cx="463.1" cy="596.7" r="2.1" fill="#a8cf3a" stroke="none" stroke-width="1"/>
<circle cx="459.6" cy="601.3" r="2.1" fill="#a8cf3a" stroke="none" stroke-width="1"/>
<circle cx="460.2" cy="601.3" r="2.1" fill="#a8cf3a" stroke="none" stroke-width="1"/>
<circle cx="463.4" cy="595.0" r="2.1" fill="#a8cf3a" stroke="none" stroke-width="1"/>
<circle cx="466.4" cy="598.6" r="2.1" fill="#a8cf3a" stroke="none" stroke-width="1"/>
<circle cx="463.2" cy="600.0" r="2.1" fill="#a8cf3a" stroke="none" stroke-width="1"/>
<circle cx="463.4" cy="601.7" r="2.1" fill="#a8cf3a" stroke="none" stroke-width="1"/>
<circle cx="470.9" cy="610.3" r="2.1" fill="#a8cf3a" stroke="none" stroke-width="1"/>
<circle cx="464.6" cy="609.9" r="2.1" fill="#a8cf3a" stroke="none" stroke-width="1"/>
<circle cx="460.2" cy="590.4" r="2.1" fill="#a8cf3a" stroke="none" stroke-width="1"/>
<circle cx="463.1" cy="595.5" r="2.1" fill="#a8cf3a" stroke="none" stroke-width="1"/>
<circle cx="460.9" cy="593.1" r="2.1" fill="#a8cf3a" stroke="none" stroke-width="1"/>
<circle cx="459.3" cy="615.6" r="2.1" fill="#a8cf3a" stroke="none" stroke-width="1"/>
<circle cx="460.8" cy="607.8" r="2.1" fill="#a8cf3a" stroke="none" stroke-width="1"/>
<circle cx="465.5" cy="590.9" r="2.1" fill="#a8cf3a" stroke="none" stroke-width="1"/>
<circle cx="470.7" cy="608.3" r="2.1" fill="#a8cf3a" stroke="none" stroke-width="1"/>
<circle cx="460.6" cy="542.8" r="2.1" fill="#a8cf3a" stroke="none" stroke-width="1"/>
<circle cx="460.6" cy="557" r="2.1" fill="#a8cf3a" stroke="none" stroke-width="1"/>
<circle cx="459.8" cy="567" r="2.1" fill="#a8cf3a" stroke="none" stroke-width="1"/>
<circle cx="462.5" cy="571.5" r="2.1" fill="#a8cf3a" stroke="none" stroke-width="1"/>
<circle cx="467.5" cy="620.6" r="2.1" fill="#a8cf3a" stroke="none" stroke-width="1"/>
<circle cx="466.4" cy="623.6" r="2.1" fill="#a8cf3a" stroke="none" stroke-width="1"/>
<circle cx="468.5" cy="631" r="2.1" fill="#a8cf3a" stroke="none" stroke-width="1"/>
<circle cx="470" cy="635.6" r="2.1" fill="#a8cf3a" stroke="none" stroke-width="1"/>
<line x1="541.7" y1="526.3" x2="541.7" y2="614.8" stroke="#444" stroke-width="1.5" />
<rect x="520.1" y="565.7" width="43.0" height="29.09999999999991" fill="#c4e1d4" stroke="#aaaaaa" stroke-width="1.5" rx="0" />
<line x1="520.1" y1="580.4" x2="563.1" y2="580.4" stroke="#444" stroke-width="2" />
<line x1="530.9" y1="526.3" x2="552.6" y2="526.3" stroke="#444" stroke-width="1.8" />
<line x1="530.9" y1="614.8" x2="552.6" y2="614.8" stroke="#444" stroke-width="1.8" />
<circle cx="545.9" cy="587.7" r="2.1" fill="#0ea86e" stroke="none" stroke-width="1"/>
<circle cx="539.2" cy="581.6" r="2.1" fill="#0ea86e" stroke="none" stroke-width="1"/>
<circle cx="536.5" cy="575.5" r="2.1" fill="#0ea86e" stroke="none" stroke-width="1"/>
<circle cx="544.8" cy="587.2" r="2.1" fill="#0ea86e" stroke="none" stroke-width="1"/>
<circle cx="538.7" cy="569.1" r="2.1" fill="#0ea86e" stroke="none" stroke-width="1"/>
<circle cx="547.6" cy="589.0" r="2.1" fill="#0ea86e" stroke="none" stroke-width="1"/>
<circle cx="545.8" cy="608.4" r="2.1" fill="#0ea86e" stroke="none" stroke-width="1"/>
<circle cx="544.3" cy="593.3" r="2.1" fill="#0ea86e" stroke="none" stroke-width="1"/>
<circle cx="537.3" cy="562.5" r="2.1" fill="#0ea86e" stroke="none" stroke-width="1"/>
<circle cx="534.6" cy="572.9" r="2.1" fill="#0ea86e" stroke="none" stroke-width="1"/>
<circle cx="534.6" cy="583.7" r="2.1" fill="#0ea86e" stroke="none" stroke-width="1"/>
<circle cx="543.6" cy="583.1" r="2.1" fill="#0ea86e" stroke="none" stroke-width="1"/>
<circle cx="547.2" cy="594.9" r="2.1" fill="#0ea86e" stroke="none" stroke-width="1"/>
<circle cx="547.6" cy="595.0" r="2.1" fill="#0ea86e" stroke="none" stroke-width="1"/>
<circle cx="537.2" cy="596.9" r="2.1" fill="#0ea86e" stroke="none" stroke-width="1"/>
<circle cx="537.3" cy="581.5" r="2.1" fill="#0ea86e" stroke="none" stroke-width="1"/>
<circle cx="542.7" cy="587.9" r="2.1" fill="#0ea86e" stroke="none" stroke-width="1"/>
<circle cx="546.4" cy="593.3" r="2.1" fill="#0ea86e" stroke="none" stroke-width="1"/>
<circle cx="543.1" cy="593.0" r="2.1" fill="#0ea86e" stroke="none" stroke-width="1"/>
<circle cx="545.1" cy="572.5" r="2.1" fill="#0ea86e" stroke="none" stroke-width="1"/>
<circle cx="546.6" cy="601.5" r="2.1" fill="#0ea86e" stroke="none" stroke-width="1"/>
<circle cx="544.8" cy="594.7" r="2.1" fill="#0ea86e" stroke="none" stroke-width="1"/>
<circle cx="536.6" cy="585.0" r="2.1" fill="#0ea86e" stroke="none" stroke-width="1"/>
<circle cx="544.9" cy="570.2" r="2.1" fill="#0ea86e" stroke="none" stroke-width="1"/>
<circle cx="547.4" cy="573.4" r="2.1" fill="#0ea86e" stroke="none" stroke-width="1"/>
<circle cx="539.6" cy="605.3" r="2.1" fill="#0ea86e" stroke="none" stroke-width="1"/>
<circle cx="544.1" cy="559.4" r="2.1" fill="#0ea86e" stroke="none" stroke-width="1"/>
<circle cx="536.5" cy="603.3" r="2.1" fill="#0ea86e" stroke="none" stroke-width="1"/>
<circle cx="546.5" cy="590.2" r="2.1" fill="#0ea86e" stroke="none" stroke-width="1"/>
<circle cx="545.2" cy="590.3" r="2.1" fill="#0ea86e" stroke="none" stroke-width="1"/>
<circle cx="547.5" cy="599.8" r="2.1" fill="#0ea86e" stroke="none" stroke-width="1"/>
<circle cx="543.1" cy="604.3" r="2.1" fill="#0ea86e" stroke="none" stroke-width="1"/>
<circle cx="536.0" cy="575.3" r="2.1" fill="#0ea86e" stroke="none" stroke-width="1"/>
<circle cx="534.4" cy="598.2" r="2.1" fill="#0ea86e" stroke="none" stroke-width="1"/>
<circle cx="541.4" cy="603.5" r="2.1" fill="#0ea86e" stroke="none" stroke-width="1"/>
<circle cx="546.9" cy="581.6" r="2.1" fill="#0ea86e" stroke="none" stroke-width="1"/>
<circle cx="545.4" cy="560.9" r="2.1" fill="#0ea86e" stroke="none" stroke-width="1"/>
<circle cx="537.1" cy="595.6" r="2.1" fill="#0ea86e" stroke="none" stroke-width="1"/>
<circle cx="537.5" cy="584.9" r="2.1" fill="#0ea86e" stroke="none" stroke-width="1"/>
<circle cx="542.2" cy="595.8" r="2.1" fill="#0ea86e" stroke="none" stroke-width="1"/>
<circle cx="536.0" cy="584.2" r="2.1" fill="#0ea86e" stroke="none" stroke-width="1"/>
<circle cx="546.6" cy="598.5" r="2.1" fill="#0ea86e" stroke="none" stroke-width="1"/>
<circle cx="542.1" cy="576.3" r="2.1" fill="#0ea86e" stroke="none" stroke-width="1"/>
<circle cx="546.5" cy="596.4" r="2.1" fill="#0ea86e" stroke="none" stroke-width="1"/>
<circle cx="541.0" cy="559.5" r="2.1" fill="#0ea86e" stroke="none" stroke-width="1"/>
<circle cx="541.4" cy="598.9" r="2.1" fill="#0ea86e" stroke="none" stroke-width="1"/>
<circle cx="540.2" cy="582.5" r="2.1" fill="#0ea86e" stroke="none" stroke-width="1"/>
<circle cx="536.7" cy="584.6" r="2.1" fill="#0ea86e" stroke="none" stroke-width="1"/>
<circle cx="536.5" cy="608.3" r="2.1" fill="#0ea86e" stroke="none" stroke-width="1"/>
<circle cx="540.6" cy="585.6" r="2.1" fill="#0ea86e" stroke="none" stroke-width="1"/>
<circle cx="538.6" cy="582.4" r="2.1" fill="#0ea86e" stroke="none" stroke-width="1"/>
<circle cx="541.2" cy="568.6" r="2.1" fill="#0ea86e" stroke="none" stroke-width="1"/>
<circle cx="535.6" cy="563.6" r="2.1" fill="#0ea86e" stroke="none" stroke-width="1"/>
<circle cx="541.8" cy="577.2" r="2.1" fill="#0ea86e" stroke="none" stroke-width="1"/>
<circle cx="544.7" cy="585.1" r="2.1" fill="#0ea86e" stroke="none" stroke-width="1"/>
<circle cx="541.1" cy="595.5" r="2.1" fill="#0ea86e" stroke="none" stroke-width="1"/>
<circle cx="546.6" cy="564.7" r="2.1" fill="#0ea86e" stroke="none" stroke-width="1"/>
<circle cx="540.2" cy="576.7" r="2.1" fill="#0ea86e" stroke="none" stroke-width="1"/>
<circle cx="541.2" cy="573.3" r="2.1" fill="#0ea86e" stroke="none" stroke-width="1"/>
<circle cx="543.6" cy="575.0" r="2.1" fill="#0ea86e" stroke="none" stroke-width="1"/>
<circle cx="540.7" cy="569.7" r="2.1" fill="#0ea86e" stroke="none" stroke-width="1"/>
<circle cx="547.0" cy="589.7" r="2.1" fill="#0ea86e" stroke="none" stroke-width="1"/>
<circle cx="547.0" cy="576.7" r="2.1" fill="#0ea86e" stroke="none" stroke-width="1"/>
<circle cx="537.7" cy="559.8" r="2.1" fill="#0ea86e" stroke="none" stroke-width="1"/>
<circle cx="545.6" cy="573.6" r="2.1" fill="#0ea86e" stroke="none" stroke-width="1"/>
<circle cx="540.2" cy="589.3" r="2.1" fill="#0ea86e" stroke="none" stroke-width="1"/>
<circle cx="535.2" cy="590.0" r="2.1" fill="#0ea86e" stroke="none" stroke-width="1"/>
<circle cx="543.3" cy="585.3" r="2.1" fill="#0ea86e" stroke="none" stroke-width="1"/>
<circle cx="544.9" cy="590.1" r="2.1" fill="#0ea86e" stroke="none" stroke-width="1"/>
<circle cx="543.9" cy="591.0" r="2.1" fill="#0ea86e" stroke="none" stroke-width="1"/>
<circle cx="538.3" cy="526.4" r="2.1" fill="#0ea86e" stroke="none" stroke-width="1"/>
<circle cx="540.4" cy="531.6" r="2.1" fill="#0ea86e" stroke="none" stroke-width="1"/>
<circle cx="545.9" cy="534.3" r="2.1" fill="#0ea86e" stroke="none" stroke-width="1"/>
<circle cx="538.3" cy="542.1" r="2.1" fill="#0ea86e" stroke="none" stroke-width="1"/>
<circle cx="536.4" cy="550.4" r="2.1" fill="#0ea86e" stroke="none" stroke-width="1"/>
<circle cx="545.4" cy="554.1" r="2.1" fill="#0ea86e" stroke="none" stroke-width="1"/>
<circle cx="538.7" cy="558.6" r="2.1" fill="#0ea86e" stroke="none" stroke-width="1"/>
<polyline points="463.2,514.4 463.2,502.5 542,502.5 542,514.4" fill="none" stroke="#555" stroke-width="2"/>
<text x="502.6" y="495.2" font-size="10.5" fill="#333" text-anchor="middle"><tspan font-style="italic">p</tspan>=2.7x10<tspan font-size="5.67" dy="-3.7">-9</tspan></text>
</svg>
</body></html>
